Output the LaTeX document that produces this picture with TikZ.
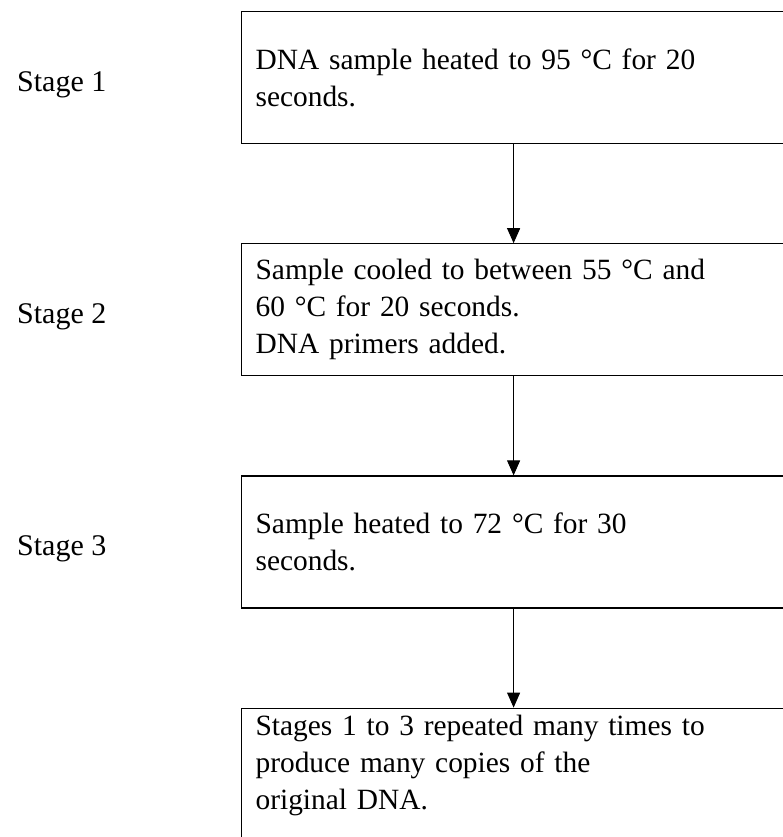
\documentclass[tikz,border=0pt]{standalone}
\usepackage{fontspec}
\setmainfont{Liberation Serif}
\usepackage{tikz}
\usetikzlibrary{arrows.meta,positioning}

\begin{document}
\begin{tikzpicture}[
  node distance=99pt,
  stepbox/.style={draw=black,line width=1.2pt,minimum width=544pt,minimum height=132pt,
    text width=516pt,inner xsep=14pt,align=left,font=\fontsize{29.4pt}{37pt}\selectfont},
  stage/.style={anchor=west,inner sep=0pt,font=\fontsize{30pt}{37pt}\selectfont},
  arr/.style={-{Triangle[width=13pt,length=15pt]},line width=1pt,draw=black}
]
\useasboundingbox (0,0) rectangle (782pt,-837pt);
\node[stepbox,anchor=north west] (heat) at (241pt,-11pt) {DNA sample heated to 95 °C for 20\\seconds.};
\node[stepbox,below=of heat] (cool) {Sample cooled to between 55 °C and\\60 °C for 20 seconds.\\DNA primers added.};
\node[stepbox,below=of cool] (extend) {Sample heated to 72 °C for 30\\seconds.};
\node[stepbox,below=of extend,minimum height=140pt,text depth=105pt] (repeat) {Stages 1 to 3 repeated many times to\\produce many copies of the\\original DNA.};
\draw[arr] (heat)--(cool);
\draw[arr] (cool)--(extend);
\draw[arr] (extend)--(repeat);
\node[stage] (s1) at ([xshift=-224pt,yshift=-7pt]heat.west) {Stage 1};
\node[stage] (s2) at ([xshift=-224pt,yshift=-7pt]cool.west) {Stage 2};
\node[stage] (s3) at ([xshift=-224pt,yshift=-7pt]extend.west) {Stage 3};
\end{tikzpicture}
\end{document}
